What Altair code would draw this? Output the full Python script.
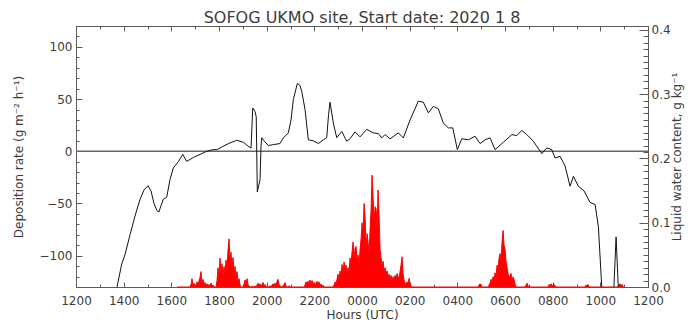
import altair as alt
import pandas as pd

TITLE = "SOFOG UKMO site, Start date: 2020 1 8"
X_TITLE = "Hours (UTC)"
YL_TITLE = "Deposition rate (g m\u207b\u00b2 h\u207b\u00b9)"
YR_TITLE = "Liquid water content, g kg\u207b\u00b9"

# hours after 12 UTC on the start date
dep_hours = [1.553, 1.721, 1.918, 2.056, 2.266, 2.476, 2.686, 2.854, 3.021, 3.147,
             3.273, 3.399, 3.483, 3.567, 3.663, 3.806, 3.945, 4.083, 4.154, 4.293,
             4.478, 4.645, 4.922, 5.204, 5.485, 5.749, 5.904, 6.043, 6.181, 6.462,
             6.744, 7.021, 7.218, 7.344, 7.415, 7.512, 7.562, 7.608, 7.721, 7.763,
             7.793, 7.889, 8.070, 8.280, 8.561, 8.699, 8.909, 9.022, 9.119, 9.287,
             9.400, 9.471, 9.610, 9.748, 9.958, 10.168, 10.378, 10.520, 10.596, 10.659,
             10.797, 10.940, 11.150, 11.360, 11.498, 11.708, 11.918, 12.199, 12.476, 12.686,
             12.828, 12.967, 13.177, 13.525, 13.735, 14.016, 14.364, 14.574, 14.784, 14.994,
             15.204, 15.413, 15.623, 15.808, 16.001, 16.186, 16.463, 16.744, 16.953, 17.163,
             17.373, 17.583, 17.931, 18.284, 18.494, 18.703, 18.913, 19.190, 19.543, 19.752,
             19.962, 20.101, 20.310, 20.520, 20.730, 20.869, 21.079, 21.318, 21.569, 21.779,
             21.918, 22.060, 22.115, 22.493, 22.661, 22.829, 24.0]
dep_values = [-170, -130, -108, -99, -80, -62, -46, -37, -33, -38,
              -50, -57, -58, -52, -46, -44, -27, -16, -14, -10,
              -3, -9.6, -6, -3, 0, 1.6, 1.6, 3, 5, 8,
              10.5, 8.6, 5, 3, 41.5, 38, 33, -39, -27, 5,
              13, 10, 5.5, 6.4, 7.4, 12.8, 17.6, 30, 49.5, 65,
              63, 57.5, 40, 11, 10, 7.4, 11, 13, 35, 47,
              27, 13, 19, 9.6, 12, 18.6, 13.8, 21, 17.6, 17,
              12.8, 16, 11.9, 17.6, 12.8, 30, 48, 47, 36.8, 43,
              40.6, 27, 22.4, 22.4, 1.6, 12, 11, 14.4, 7.4, 11,
              12.8, 1.6, 8.6, 16, 15, 20, 16, 9.6, -2.2, 3.2,
              1.6, -6.4, -4.8, -14, -33.5, -24, -33.5, -38, -49, -51,
              -72, -130, -170, -170, -82, -170, -170]

# liquid water content: record start / end and bursts (start hour, samples)
LWC_STEP = 0.042
lwc_start_end = [(4.24, 0.0), (23.04, 0.0)]
lwc_a = (4.784, [0, 0.004, 0.013, 0.002, 0.006, 0.001, 0.003, 0.008, 0.002, 0.010,
                 0.015, 0.024, 0.006, 0.012, 0.003, 0.007, 0.002, 0.005, 0.001, 0.004,
                 0.002, 0.006, 0.001, 0.003, 0])
lwc_b = (5.875, [0, 0.010, 0.030, 0.018, 0.045, 0.022, 0.036, 0.017, 0.032, 0.022,
                 0.042, 0.030, 0.058, 0.075, 0.042, 0.054, 0.030, 0.046, 0.024, 0.032,
                 0.016, 0.024, 0.008, 0.013, 0.003, 0])
lwc_c = (7.008, [0, 0.004, 0.011, 0.006, 0.013, 0.004, 0.002, 0, 0, 0.001,
                 0, 0, 0.002, 0, 0.003, 0.006, 0.002, 0.005, 0.001, 0.004,
                 0.007, 0.002, 0.004, 0, 0.001, 0, 0, 0.002, 0, 0.003,
                 0.005, 0.002, 0.006, 0.003, 0.009, 0.012, 0.004, 0.002, 0, 0,
                 0.002, 0.004, 0.007, 0.001, 0, 0, 0.002, 0, 0, 0])
lwc_d = (9.568, [0, 0.003, 0.008, 0.004, 0.009, 0.006, 0.011, 0.005, 0.010, 0.004,
                 0.007, 0.003, 0.006, 0.009, 0.004, 0.008, 0.002, 0.005, 0.001, 0.003,
                 0, 0])
lwc_e = (10.785, [0, 0.003, 0.008, 0.005, 0.012, 0.020, 0.012, 0.025, 0.018, 0.035,
                  0.022, 0.039, 0.028, 0.034, 0.020, 0.030, 0.025, 0.045, 0.035, 0.055,
                  0.070, 0.045, 0.060, 0.063, 0.040, 0.050, 0.035, 0.058, 0.075, 0.100,
                  0.080, 0.130, 0.110, 0.060, 0.083, 0.070, 0.050, 0.090, 0.120, 0.174,
                  0.140, 0.100, 0.125, 0.122, 0.090, 0.151, 0.110, 0.058, 0.045, 0.032,
                  0.040, 0.025, 0.030, 0.020, 0.025, 0.015, 0.020, 0.012, 0.018, 0.010,
                  0.016, 0.012, 0.018, 0.014, 0.021, 0.016, 0.012, 0.025, 0.035, 0.047,
                  0.020, 0.010, 0.006, 0.004, 0.008, 0.006, 0.0135, 0.004, 0.002, 0])
lwc_f = (16.87, [0, 0.003, 0.005, 0.002, 0])
lwc_g = (17.289, [0, 0.003, 0.006, 0.012, 0.008, 0.016, 0.010, 0.022, 0.018, 0.034,
                  0.028, 0.045, 0.052, 0.040, 0.070, 0.088, 0.065, 0.058, 0.040, 0.030,
                  0.021, 0.012, 0.018, 0.021, 0.010, 0.016, 0.011, 0.004, 0])
lwc_h1 = (18.842, [0, 0.003, 0.006, 0.002, 0])
lwc_h2 = (19.807, [0, 0.004, 0.002, 0.005, 0.003, 0.001, 0.004, 0.002, 0])
lwc_h3 = (21.36, [0, 0.003, 0.001, 0.004, 0])
lwc_h4 = (22.744, [0, 0.003, 0.005, 0.001, 0.004, 0])
lwc_bursts = [lwc_a, lwc_b, lwc_c, lwc_d, lwc_e, lwc_f, lwc_g, lwc_h1, lwc_h2, lwc_h3, lwc_h4]

hour_ticks = list(range(0, 25, 2))
dep_ticks = [-100, -50, 0, 50, 100]
lwc_ticks = [0.0, 0.1, 0.2, 0.3, 0.4]

# ---- tables ----
dep_df = pd.DataFrame({"hour": dep_hours, "dep": dep_values})
rows = list(lwc_start_end)
for start, vals in lwc_bursts:
    for i, v in enumerate(vals):
        rows.append((start + i * LWC_STEP, v))
lwc_df = pd.DataFrame(rows, columns=["hour", "lwc"]).sort_values("hour")
zero_df = pd.DataFrame({"dep": [0]})
dummy_df = pd.DataFrame({"hour": [0.0], "lwc": [0.0]})

FONT = "DejaVu Sans"
TXT = "#3c3c3c"
LINE = "#5a5a5a"

xs = alt.Scale(domain=[0, 24], nice=False, zero=False)
yls = alt.Scale(domain=[-130, 120], nice=False, zero=False)
yrs = alt.Scale(domain=[0, 0.406], nice=False, zero=False)

base = dict(domain=False, grid=False, tickColor=LINE, tickWidth=1, labelColor=TXT,
            titleColor=TXT, labelFont=FONT, titleFont=FONT, labelFontSize=12,
            titleFontSize=12, titleFontWeight="normal", labelFlush=False,
            labelOverlap=False)

label_expr = "(((datum.value+12)%24)<10?'0':'')+((datum.value+12)%24)+'00'"

dep = alt.Chart(dep_df).mark_line(color="#111111", strokeWidth=1, clip=True).encode(
    x=alt.X("hour:Q", scale=xs, axis=alt.Axis(
        orient="bottom", values=hour_ticks, tickSize=5, offset=-5, labelPadding=8,
        labelExpr=label_expr, title=X_TITLE, titlePadding=3, **base)),
    y=alt.Y("dep:Q", scale=yls, axis=alt.Axis(
        orient="left", values=dep_ticks, tickSize=6, offset=-6, labelPadding=4,
        title=YL_TITLE, titlePadding=14, **base)),
)

lwc_area = alt.Chart(lwc_df).mark_area(color="#ff0000", opacity=1).encode(
    x=alt.X("hour:Q", scale=xs, axis=alt.Axis(
        orient="top", values=hour_ticks, tickSize=5, offset=-5, labels=False,
        title=None, **base)),
    y=alt.Y("lwc:Q", scale=yrs, stack=None, axis=alt.Axis(
        orient="right", values=lwc_ticks, tickSize=9, offset=-9, labelPadding=3,
        format=".1f", title=YR_TITLE, titleAngle=270, titleBaseline="top",
        titlePadding=1, **base)),
)

lwc_line = alt.Chart(lwc_df).mark_line(color="#ff0000", strokeWidth=1).encode(
    x=alt.X("hour:Q", scale=xs, axis=None),
    y=alt.Y("lwc:Q", scale=yrs, axis=None),
)

zero = alt.Chart(zero_df).mark_rule(color="#666666", strokeWidth=1.5).encode(
    y=alt.Y("dep:Q", scale=yls, axis=alt.Axis(
        orient="left", values=list(range(-120, 121, 10)), tickSize=3, offset=-3,
        labels=False, title=None, **base)),
)

minor_br = alt.Chart(dummy_df).mark_point(opacity=0).encode(
    x=alt.X("hour:Q", scale=xs, axis=alt.Axis(
        orient="bottom", values=list(range(0, 25)), tickSize=3, offset=-3,
        labels=False, title=None, **base)),
    y=alt.Y("lwc:Q", scale=yrs, axis=alt.Axis(
        orient="right", values=[i / 100 for i in range(41)], tickSize=5, offset=-5,
        labels=False, title=None, **base)),
)

minor_top = alt.Chart(dummy_df).mark_point(opacity=0).encode(
    x=alt.X("hour:Q", scale=xs, axis=alt.Axis(
        orient="top", values=list(range(0, 25)), tickSize=3, offset=-3,
        labels=False, title=None, **base)),
    y=alt.Y("lwc:Q", scale=yrs, axis=None),
)

chart = alt.layer(lwc_area, lwc_line, zero, dep, minor_br, minor_top).resolve_scale(
    x="independent", y="independent"
).properties(
    width=572, height=261,
    title=alt.TitleParams(TITLE, font=FONT, fontSize=16, fontWeight="normal",
                          color=TXT, anchor="middle", offset=3, dy=5),
    padding={"left": 68, "top": 18, "right": 38, "bottom": 34},
    autosize=alt.AutoSizeParams(type="none"),
).configure_view(stroke=LINE, strokeWidth=1)

chart.save("out.html", embed_options={"renderer": "svg", "actions": False})
